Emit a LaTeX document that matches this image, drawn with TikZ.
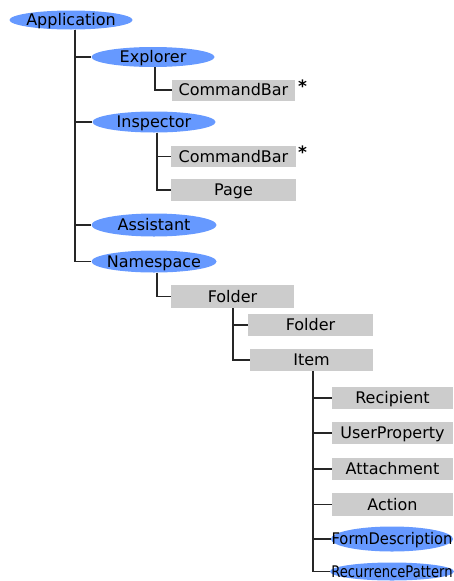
\documentclass[tikz,border=0pt]{standalone}
\usepackage{fontspec}
\setmainfont{DejaVu Sans}
\usetikzlibrary{shapes.geometric}
\definecolor{ovalblue}{RGB}{102,153,255}
\definecolor{boxgray}{RGB}{204,204,204}
% zero-width label so the oval keeps its fixed size
\newcommand{\zw}[1]{\makebox[0pt]{#1}}
\tikzset{
  every node/.style={font=\fontsize{16}{17}\selectfont, inner sep=0pt,
    text height=11.5pt, text depth=0pt},
  oval/.style={ellipse, fill=ovalblue, minimum width=123pt, minimum height=20pt},
  tag/.style={rectangle, fill=boxgray, minimum width=123pt, minimum height=21pt},
  link/.style={draw=black!85, line width=1.5pt},
  note/.style={anchor=base west, text height=, text depth=, font=\fontsize{17}{18}\selectfont\bfseries}
}
\begin{document}
\begin{tikzpicture}[x=1pt, y=-1pt]
  \useasboundingbox[fill=white] (0,0) rectangle (454,581);

  % object model tree
  \node[oval, minimum height=19pt] (app) at (71,20) {\zw{Application}};

  \node[oval] (explorer) at (153,57) {\zw{Explorer}};
  \node[tag] (cbar1) at (233.5,90) {CommandBar};

  \node[oval, minimum height=21pt] (inspector) at (154,122) {\zw{Inspector}};
  \node[tag, minimum width=125pt] (cbar2) at (233.5,156.5) {CommandBar};
  \node[tag, minimum width=125pt, minimum height=22pt] (page) at (233.5,190) {Page};

  \node[oval, minimum width=125pt, minimum height=23pt] (assistant) at (154,225) {\zw{Assistant}};
  \node[oval, minimum width=125pt, minimum height=22pt] (namespace) at (154,261.5) {\zw{Namespace}};

  \node[tag, minimum height=23pt] (folder) at (232.5,296.5) {Folder};
  \node[tag, minimum width=125pt, minimum height=22pt] (subfolder) at (310.5,325) {Folder};
  \node[tag, minimum width=123pt, minimum height=22pt] (item) at (311.5,360) {Item};

  \node[tag, minimum width=121pt, minimum height=22pt] (recipient) at (392.5,398) {Recipient};
  \node[tag, minimum width=121pt, minimum height=22pt] (userprop) at (392.5,433) {UserProperty};
  \node[tag, minimum width=121pt, minimum height=22pt] (attach) at (392.5,469) {Attachment};
  \node[tag, minimum width=121pt, minimum height=23pt] (action) at (392.5,504.5) {Action};
  \node[oval, minimum width=122pt, minimum height=25pt] (formdesc) at (392,539)
    {\zw{\scalebox{0.92}[1]{FormDescription}}};
  \node[oval, minimum width=124pt, minimum height=18pt] (recur) at (392,571.5)
    {\zw{\scalebox{0.82}[1]{RecurrencePattern}}};

  % collection markers
  \node[note] (star1) at (298,92) {*};
  \node[note] (star2) at (298,158) {*};

  % connectors
  \foreach \child in {explorer, inspector, assistant, namespace}
    \draw[link] ([xshift=4pt]app.south) |- (\child.west);
  \draw[link] ([xshift=2pt]explorer.south) |- (cbar1.west);
  \foreach \child in {cbar2, page}
    \draw[link] ([xshift=3pt]inspector.south) |- (\child.west);
  \draw[link] ([xshift=3pt]namespace.south) |- (folder.west);
  \foreach \child in {subfolder, item}
    \draw[link] ([xshift=0.5pt]folder.south) |- (\child.west);
  \foreach \child in {recipient, userprop, attach, action, formdesc, recur}
    \draw[link] ([xshift=1.5pt]item.south) |- (\child.west);
\end{tikzpicture}
\end{document}
